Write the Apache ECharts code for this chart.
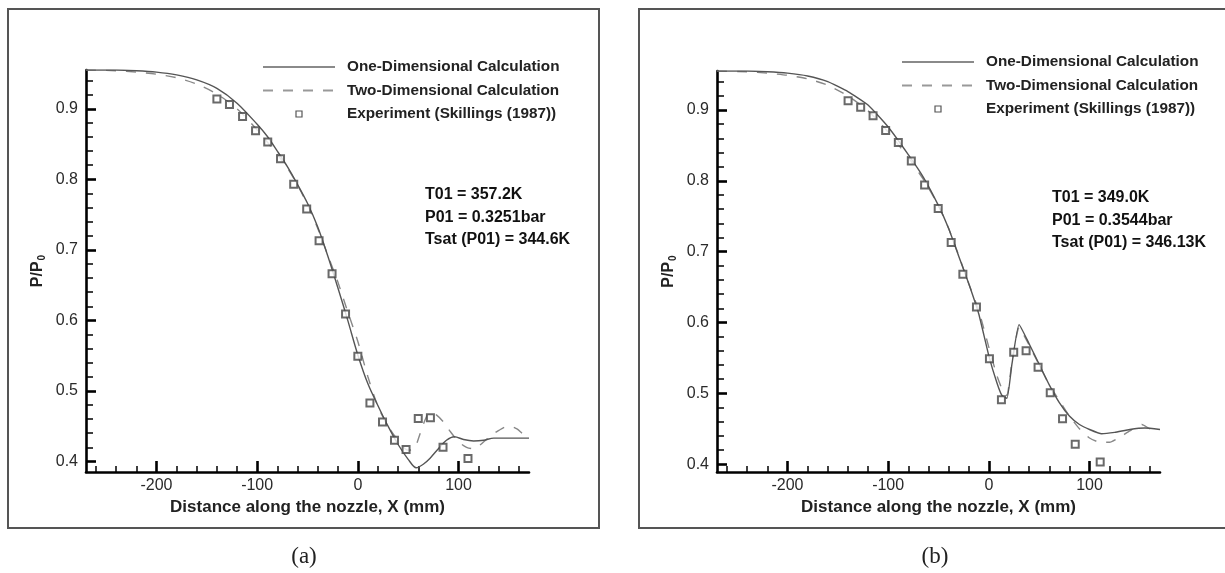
<!DOCTYPE html>
<html>
<head>
<meta charset="utf-8">
<script src="https://cdn.jsdelivr.net/npm/echarts@6/dist/echarts.min.js"></script>
<style>
html,body{margin:0;padding:0;background:#fff;}
#chart{width:1225px;height:573px;}
</style>
</head>
<body>
<div id="chart"></div>
<script>
// ---------- Data ----------
var seriesNames = ['One-Dimensional Calculation', 'Two-Dimensional Calculation', 'Experiment (Skillings (1987))'];
var xMajorTicks = [-200, -100, 0, 100];
var xMinorTicks = [-260, -240, -220, -180, -160, -140, -120, -80, -60, -40, -20, 20, 40, 60, 80, 120, 140, 160];
var yMajorTicks = [0.4, 0.5, 0.6, 0.7, 0.8, 0.9];
var yMinorTicks = [0.42, 0.44, 0.46, 0.48, 0.52, 0.54, 0.56, 0.58, 0.62, 0.64, 0.66, 0.68, 0.72, 0.74, 0.76, 0.78, 0.82, 0.84, 0.86, 0.88, 0.92, 0.94];

// Panel (a)
var a1DX = [-270, -240, -220, -200, -180, -160, -140, -120, -100, -90, -80, -70, -60, -50, -40, -30, -20, -10, 0, 10, 20, 30, 40, 50, 58, 65, 72, 80, 88, 96, 105, 115, 125, 135, 150, 170];
var a1DY = [0.955, 0.955, 0.954, 0.952, 0.948, 0.941, 0.929, 0.908, 0.878, 0.861, 0.840, 0.818, 0.793, 0.766, 0.733, 0.692, 0.647, 0.600, 0.551, 0.510, 0.479, 0.450, 0.424, 0.403, 0.391, 0.396, 0.405, 0.418, 0.430, 0.435, 0.431, 0.429, 0.430, 0.433, 0.433, 0.433];
var a2DX = [-270, -240, -220, -200, -180, -160, -140, -120, -100, -80, -70, -60, -50, -40, -30, -20, -10, 0, 10, 20, 30, 40, 50, 56, 62, 68, 72, 78, 85, 92, 100, 108, 115, 122, 130, 140, 150, 158, 165, 170];
var a2DY = [0.955, 0.954, 0.952, 0.949, 0.944, 0.935, 0.921, 0.900, 0.870, 0.835, 0.816, 0.792, 0.764, 0.731, 0.693, 0.655, 0.612, 0.570, 0.520, 0.478, 0.450, 0.430, 0.416, 0.418, 0.440, 0.463, 0.470, 0.466, 0.456, 0.442, 0.428, 0.420, 0.418, 0.424, 0.434, 0.444, 0.450, 0.446, 0.438, 0.437];
var aExpX = [-140, -127.5, -114.5, -101.6, -89.5, -76.8, -63.7, -50.8, -38.5, -25.6, -12.2, 0, 12, 24.5, 36.4, 47.9, 60, 72.1, 84.6, 109.4];
var aExpY = [0.914, 0.906, 0.889, 0.869, 0.853, 0.829, 0.793, 0.758, 0.713, 0.666, 0.609, 0.549, 0.483, 0.456, 0.430, 0.417, 0.461, 0.462, 0.420, 0.404];

// Panel (b)
var b1DX = [-270, -240, -220, -200, -180, -160, -140, -120, -100, -80, -65, -50, -40, -30, -20, -10, 0, 8, 13, 18, 23, 30, 40, 50, 60, 70, 80, 90, 100, 112, 125, 140, 155, 170];
var b1DY = [0.955, 0.955, 0.954, 0.952, 0.948, 0.940, 0.926, 0.907, 0.876, 0.837, 0.805, 0.765, 0.733, 0.694, 0.655, 0.612, 0.553, 0.515, 0.497, 0.493, 0.542, 0.597, 0.570, 0.541, 0.512, 0.487, 0.468, 0.456, 0.449, 0.443, 0.445, 0.449, 0.451, 0.449];
var b2DX = [-270, -240, -220, -200, -180, -160, -140, -120, -100, -80, -65, -50, -40, -30, -20, -10, 0, 8, 14, 18, 23, 30, 40, 50, 60, 70, 80, 90, 100, 110, 120, 130, 140, 152, 160, 170];
var b2DY = [0.955, 0.954, 0.952, 0.949, 0.944, 0.935, 0.920, 0.899, 0.869, 0.833, 0.802, 0.765, 0.733, 0.695, 0.655, 0.617, 0.565, 0.525, 0.503, 0.497, 0.545, 0.593, 0.568, 0.540, 0.512, 0.490, 0.468, 0.450, 0.437, 0.431, 0.431, 0.438, 0.447, 0.456, 0.450, 0.448];
var bExpX = [-139.8, -127.3, -115, -102.5, -89.9, -77, -63.8, -50.3, -37.4, -25.8, -12.3, 0.6, 12.5, 24.7, 37, 48.9, 61, 73.2, 85.8, 110.6];
var bExpY = [0.913, 0.904, 0.892, 0.871, 0.854, 0.828, 0.794, 0.761, 0.713, 0.668, 0.622, 0.549, 0.491, 0.558, 0.560, 0.537, 0.501, 0.464, 0.428, 0.403];

var annotA = ['T01 = 357.2K', 'P01 = 0.3251bar', 'Tsat (P01) = 344.6K'];
var annotB = ['T01 = 349.0K', 'P01 = 0.3544bar', 'Tsat (P01) = 346.13K'];
var captions = ['(a)', '(b)'];
var xTitle = 'Distance along the nozzle, X (mm)';

// ---------- Helpers ----------
function pairs(xs, ys) { return xs.map(function (x, i) { return [x, ys[i]]; }); }
var FONT = "'Liberation Sans', Arial, sans-serif";
// small square centred in a 72x6 legend icon box
var SQUARE_ICON = 'path://M0,3M72,3M33,0L39,0L39,6L33,6Z';

function xAxes(g) {
  return [{
    type: 'value', gridIndex: g, min: -270, max: 170, position: 'bottom',
    axisLine: { show: true, onZero: false, lineStyle: { color: '#000', width: 2.6 } },
    axisTick: { show: true, inside: true, length: 11, customValues: xMajorTicks, lineStyle: { color: '#000', width: 2.6 } },
    axisLabel: { show: true, customValues: xMajorTicks, fontSize: 16, color: '#2a2a2a', fontFamily: FONT, margin: 6 },
    splitLine: { show: false },
    name: xTitle, nameLocation: 'middle', nameGap: 23,
    nameTextStyle: { fontSize: 17, fontWeight: 'bold', color: '#222', fontFamily: FONT }
  }, {
    type: 'value', gridIndex: g, min: -270, max: 170, position: 'bottom',
    axisLine: { show: false, onZero: false },
    axisTick: { show: true, inside: true, length: 6, customValues: xMinorTicks, lineStyle: { color: '#000', width: 1.5 } },
    axisLabel: { show: false },
    splitLine: { show: false }
  }];
}
function yAxes(g, ymin) {
  return [{
    type: 'value', gridIndex: g, min: ymin, max: 0.955, position: 'left',
    axisLine: { show: true, onZero: false, lineStyle: { color: '#000', width: 2.6 } },
    axisTick: { show: true, inside: true, length: 10, customValues: yMajorTicks, lineStyle: { color: '#000', width: 2.6 } },
    axisLabel: { show: true, customValues: yMajorTicks, fontSize: 16, color: '#2a2a2a', fontFamily: FONT, margin: 8,
      formatter: function (v) { return v.toFixed(1); } },
    splitLine: { show: false },
    name: '{m|P/P}{s|0}', nameLocation: 'middle', nameGap: 39, nameRotate: 90,
    nameTextStyle: { fontFamily: FONT, color: '#222',
      rich: { m: { fontSize: 16, fontWeight: 'bold', fontFamily: FONT, color: '#222' },
              s: { fontSize: 10, fontWeight: 'bold', fontFamily: FONT, color: '#222', padding: [9, 0, 0, 1] } } }
  }, {
    type: 'value', gridIndex: g, min: ymin, max: 0.955, position: 'left',
    axisLine: { show: false, onZero: false },
    axisTick: { show: true, inside: true, length: 7, customValues: yMinorTicks, lineStyle: { color: '#000', width: 1.5 } },
    axisLabel: { show: false },
    splitLine: { show: false }
  }];
}
function panelSeries(g, d1, d2, exp, sm) {
  return [{
    name: seriesNames[0], type: 'line', xAxisIndex: 2 * g, yAxisIndex: 2 * g, data: d1,
    symbol: 'none', smooth: sm, itemStyle: { color: '#555' }, lineStyle: { color: '#555', width: 1.4, type: 'solid' }, z: 3
  }, {
    name: seriesNames[1], type: 'line', xAxisIndex: 2 * g, yAxisIndex: 2 * g, data: d2,
    symbol: 'none', smooth: sm, itemStyle: { color: '#888' }, lineStyle: { color: '#888', width: 1.4, type: [10, 10] }, z: 2
  }, {
    name: seriesNames[2], type: 'scatter', xAxisIndex: 2 * g, yAxisIndex: 2 * g, data: exp,
    symbol: 'emptyRect', symbolSize: 7, symbolKeepAspect: true,
    itemStyle: { color: '#444', borderColor: '#444', borderWidth: 1.2 }, z: 4
  }];
}
function legendAt(left, top) {
  return {
    left: left, top: top, orient: 'vertical', itemWidth: 72, itemHeight: 6, itemGap: 5.5,
    selectedMode: false, padding: 0,
    textStyle: { fontSize: 15.3, fontWeight: 'bold', color: '#222', fontFamily: FONT, lineHeight: 18, padding: [0, 0, 0, 7] },
    data: seriesNames.map(function (n, i) {
      if (i === 2) {
        return { name: n, icon: SQUARE_ICON, itemStyle: { color: '#fff', borderColor: '#555', borderWidth: 1.2, opacity: 1 } };
      }
      return { name: n, itemStyle: { color: 'rgba(0,0,0,0)', borderColor: 'rgba(0,0,0,0)', borderWidth: 0, opacity: 0 },
        lineStyle: { color: i === 0 ? '#8a8a8a' : '#999', width: 2, type: i === 0 ? 'solid' : [10, 10] } };
    })
  };
}
function annotText(x, y, lines) {
  return lines.map(function (t, i) {
    return { type: 'text', left: x, top: y + i * 22.5, style: { text: t, fontSize: 16, fontWeight: 'bold', fill: '#111', fontFamily: FONT } };
  });
}

var chart = echarts.init(document.getElementById('chart'), null, { renderer: 'canvas' });
var option = {
  animation: false,
  backgroundColor: '#fff',
  grid: [
    { left: 86, top: 70, width: 443, height: 402 },
    { left: 717, top: 71, width: 443, height: 401 }
  ],
  xAxis: xAxes(0).concat(xAxes(1)),
  yAxis: yAxes(0, 0.385).concat(yAxes(1, 0.389)),
  legend: [legendAt(262, 58), legendAt(901, 53)],
  series: panelSeries(0, pairs(a1DX, a1DY), pairs(a2DX, a2DY), pairs(aExpX, aExpY), 0.3)
    .concat(panelSeries(1, pairs(b1DX, b1DY), pairs(b2DX, b2DY), pairs(bExpX, bExpY), 0.15)),
  graphic: [
    { type: 'rect', shape: { x: 8, y: 9, width: 591, height: 519 }, style: { fill: 'none', stroke: '#555', lineWidth: 2 }, silent: true },
    { type: 'rect', shape: { x: 639, y: 9, width: 600, height: 519 }, style: { fill: 'none', stroke: '#555', lineWidth: 2 }, silent: true },
    { type: 'text', x: 304, y: 557, style: { text: captions[0], fontSize: 23, fill: '#222', fontFamily: "'Liberation Serif', serif", align: 'center', verticalAlign: 'middle' } },
    { type: 'text', x: 935, y: 557, style: { text: captions[1], fontSize: 23, fill: '#222', fontFamily: "'Liberation Serif', serif", align: 'center', verticalAlign: 'middle' } }
  ].concat(annotText(425, 187, annotA)).concat(annotText(1052, 190, annotB))
};
chart.setOption(option);
</script>
</body>
</html>
